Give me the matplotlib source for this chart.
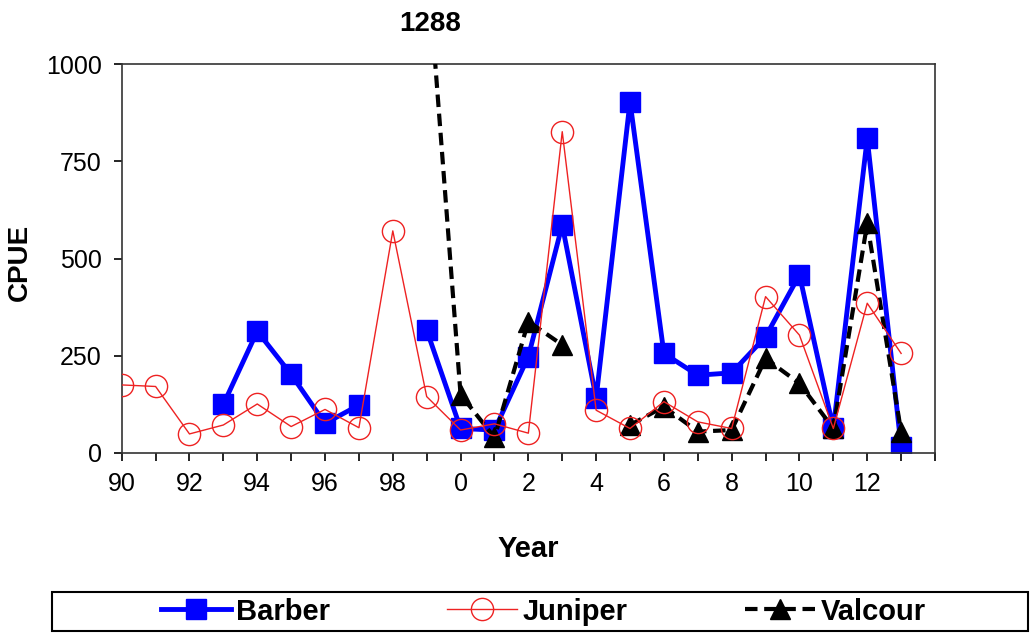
import numpy as np
import matplotlib
matplotlib.use("Agg")
import matplotlib.pyplot as plt
from matplotlib.patches import Rectangle

nan = np.nan
years = list(range(1990, 2014))
barber = [nan, nan, nan, 125, 313, 202, 76, 123, nan, 316,
          63, 59, 248, 586, 141, 903, 256, 200, 206, 299,
          458, 63, 809, 16]
juniper = [175, 171, 49, 72, 126, 68, 112, 65, 571, 145,
           59, 75, 51, 826, 110, 63, 132, 80, 63, 402,
           303, 63, 385, 256]
valcour = [nan, nan, nan, nan, nan, nan, nan, nan, nan, 1288,
           150, 40, 338, 278, nan, 72, 119, 55, 59, 243,
           179, 63, 590, 55]
xtick_labels = ["90", "", "92", "", "94", "", "96", "", "98", "",
                "0", "", "2", "", "4", "", "6", "", "8", "",
                "10", "", "12", "", ""]
yticks = [0, 250, 500, 750, 1000]
offscale_label = "1288"

plt.rcParams['font.family'] = ['Liberation Sans', 'DejaVu Sans']

fig = plt.figure(figsize=(10.3, 6.35), dpi=100)
ax = fig.add_axes([121.7/1030, 1-453/635, (935-121.7)/1030, (453-64)/635])

ax.plot(years, barber, color='#0000FF', lw=3.5, marker='s', ms=15,
        mfc='#0000FF', mec='#0000FF', label='Barber', zorder=2)
ax.plot(years, valcour, color='black', lw=3, dashes=(3, 1.6), marker='^',
        ms=14, mfc='black', mec='black', label='Valcour', zorder=3)
ax.plot(years, juniper, color='#EE2222', lw=1, marker='o', ms=16,
        mfc='none', mec='#EE2222', label='Juniper', zorder=4)

ax.set_xlim(1990, 2014)
ax.set_ylim(0, 1000)
ax.set_xticks(list(range(1990, 2015)))
ax.set_xticklabels(xtick_labels)
ax.set_yticks(yticks)
ax.tick_params(axis='both', direction='out', length=5.5, width=1.2,
               labelsize=18, pad=9, colors='black')
ax.tick_params(axis='x', pad=8)
for s in ax.spines.values():
    s.set_linewidth(1.2)
    s.set_color('#333333')

ax.set_ylabel('CPUE', fontsize=20, fontweight='bold')
ax.set_xlabel('Year', fontsize=21, fontweight='bold', labelpad=28)
ax.yaxis.set_label_coords(-0.109, 0.49)

# annotation for off-scale value
idx = valcour.index(1288)
ax.annotate(offscale_label, xy=(years[idx] + 0.1, 1000), xytext=(0, 29),
            textcoords='offset points', ha='center', va='center',
            fontsize=20, fontweight='bold', annotation_clip=False)

# legend
h, l = ax.get_legend_handles_labels()
order = [0, 2, 1]
fig.add_artist(Rectangle((52/1030, 1-631/635), (1028-52)/1030, 39/635,
                         transform=fig.transFigure, fill=False,
                         edgecolor='black', lw=1.5))
fig.legend([h[i] for i in order], [l[i] for i in order], loc='center',
           bbox_to_anchor=(543/1030, 1-611.5/635), ncol=3, frameon=False,
           prop={'weight': 'bold', 'size': 21}, handlelength=2.4,
           handletextpad=0.2, columnspacing=4.0, borderpad=0)

fig.savefig('out.png', dpi=100)
